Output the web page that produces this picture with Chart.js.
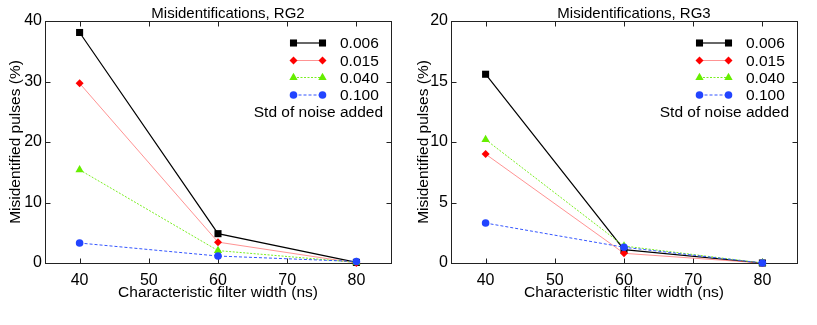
<!DOCTYPE html>
<html><head><meta charset="utf-8">
<script src="https://cdn.jsdelivr.net/npm/chart.js@4.4.0/dist/chart.umd.min.js"></script>
<style>
html,body{margin:0;padding:0;background:#fff;width:817px;height:325px;overflow:hidden}
#c1{position:absolute;left:0;top:0}
#c2{position:absolute;left:408px;top:0}
</style>
</head><body>
<canvas id="c1" width="408" height="325"></canvas>
<canvas id="c2" width="409" height="325"></canvas>
<script>
// ---- data ----
const filterWidths = [40, 60, 80];
const xTickValues = [40, 50, 60, 70, 80];
const noiseLabels = ['0.006', '0.015', '0.040', '0.100'];
const legendNote = 'Std of noise added';

const rg2Title = 'Misidentifications, RG2';
const rg2_006 = [38.1, 4.85, 0.1];
const rg2_015 = [29.7, 3.45, 0.0];
const rg2_040 = [15.4, 2.05, 0.1];
const rg2_100 = [3.3, 1.15, 0.25];
const rg2YTicks = [0, 10, 20, 30, 40];

const rg3Title = 'Misidentifications, RG3';
const rg3_006 = [15.6, 1.1, 0.0];
const rg3_015 = [9.0, 0.8, 0.0];
const rg3_040 = [10.2, 1.4, 0.0];
const rg3_100 = [3.3, 1.3, 0.0];
const rg3YTicks = [0, 5, 10, 15, 20];

const xTitle = 'Characteristic filter width (ns)';
const yTitle = 'Misidentified pulses (%)';

// ---- styles ----
const FONT = "'Liberation Sans', Arial, Helvetica, sans-serif";
Chart.defaults.font.family = FONT;
Chart.defaults.color = '#000';

const seriesStyles = [
  {fill: '#000000', line: '#000000', width: 1.2, dash: [], point: 'rect', r: 5},
  {fill: '#ff0000', line: 'rgba(255,40,40,0.5)', width: 1, dash: [], point: 'rectRot', r: 4},
  {fill: '#66ee00', line: '#7aee22', width: 1, dash: [2, 1.5], point: 'triangle', r: 4.8},
  {fill: '#2244ff', line: '#3355ff', width: 1, dash: [3, 2], point: 'circle', r: 3.8}
];

function makeDatasets(seriesList) {
  return seriesList.map((vals, i) => {
    const s = seriesStyles[i];
    return {
      label: noiseLabels[i],
      data: filterWidths.map((x, k) => ({x: x, y: vals[k]})),
      borderColor: s.line,
      borderWidth: s.width,
      borderDash: s.dash,
      backgroundColor: s.fill,
      pointBackgroundColor: s.fill,
      pointBorderColor: s.fill,
      pointBorderWidth: 0,
      pointStyle: s.point,
      pointRadius: s.r,
      pointHoverRadius: s.r,
      tension: 0,
      clip: false,
      order: seriesList.length - 1 - i
    };
  });
}

const framePlugin = {
  id: 'frame',
  beforeDatasetsDraw(chart) {
    const ctx = chart.ctx, a = chart.chartArea;
    const xs = chart.scales.x, ys = chart.scales.y;
    ctx.save();
    ctx.strokeStyle = '#222';
    ctx.lineWidth = 1;
    const L = Math.round(a.left) + 0.5, R = Math.round(a.right) + 0.5;
    const T = Math.round(a.top) + 0.5, B = Math.round(a.bottom) + 0.5;
    ctx.strokeRect(L, T, R - L, B - T);
    const tl = 5;
    ctx.beginPath();
    xs.ticks.forEach(t => {
      const px = Math.round(xs.getPixelForValue(t.value)) + 0.5;
      ctx.moveTo(px, B); ctx.lineTo(px, B - tl);
      ctx.moveTo(px, T); ctx.lineTo(px, T + tl);
    });
    ys.ticks.forEach(t => {
      const py = Math.round(ys.getPixelForValue(t.value)) + 0.5;
      ctx.moveTo(L, py); ctx.lineTo(L + tl, py);
      ctx.moveTo(R, py); ctx.lineTo(R - tl, py);
    });
    ctx.stroke();
    ctx.restore();
  }
};

const legendTitlePlugin = {
  id: 'legendTitle',
  afterDraw(chart, args, opts) {
    const ctx = chart.ctx, a = chart.chartArea;
    ctx.save();
    // title
    ctx.fillStyle = '#000';
    ctx.font = '15px ' + FONT;
    ctx.textAlign = 'center';
    ctx.textBaseline = 'middle';
    ctx.fillText(opts.title, (a.left + a.right) / 2 + 10, 14);
    // legend
    const x1 = a.right - 97.5, x2 = a.right - 68.5, tx = a.right - 51;
    const rows = [22, 39.5, 56.5, 74];
    ctx.font = '15.5px ' + FONT;
    ctx.textAlign = 'left';
    chart.data.datasets.forEach((ds, i) => {
      const y = a.top + rows[i];
      ctx.save();
      ctx.strokeStyle = ds.borderColor;
      ctx.lineWidth = ds.borderWidth;
      ctx.setLineDash(ds.borderDash);
      ctx.beginPath(); ctx.moveTo(x1, y); ctx.lineTo(x2, y); ctx.stroke();
      ctx.restore();
      ctx.fillStyle = ds.pointBackgroundColor;
      ctx.strokeStyle = ds.pointBorderColor;
      const po = {pointStyle: ds.pointStyle, radius: ds.pointRadius, rotation: 0, borderWidth: 0};
      Chart.helpers.drawPoint(ctx, po, x1, y);
      Chart.helpers.drawPoint(ctx, po, x2, y);
      ctx.fillStyle = '#000';
      ctx.fillText(ds.label, tx, y + 1);
    });
    ctx.textAlign = 'right';
    ctx.fillText(legendNote, a.right - 8, a.top + 92);
    ctx.restore();
  }
};

function makeChart(id, title, seriesList, yTicks, yAxisWidth, padRight) {
  return new Chart(document.getElementById(id), {
    type: 'line',
    data: {datasets: makeDatasets(seriesList)},
    options: {
      responsive: false,
      animation: false,
      devicePixelRatio: 1,
      layout: {padding: {left: 0, right: padRight, top: 21, bottom: 0}},
      plugins: {
        legend: {display: false},
        tooltip: {enabled: false},
        title: {display: false},
        legendTitle: {title: title}
      },
      scales: {
        x: {
          type: 'linear', min: 35, max: 85,
          afterBuildTicks: s => { s.ticks = xTickValues.map(v => ({value: v})); },
          afterFit: s => { s.height = 62; },
          grid: {display: false, drawTicks: false},
          border: {display: false},
          ticks: {padding: 8, font: {size: 16}, color: '#000', maxRotation: 0, autoSkip: false},
          title: {display: true, text: xTitle, font: {size: 15.5}, color: '#000', padding: {top: 0, bottom: 23}}
        },
        y: {
          type: 'linear', min: yTicks[0], max: yTicks[yTicks.length - 1],
          afterBuildTicks: s => { s.ticks = yTicks.map(v => ({value: v})); },
          afterFit: s => { s.width = yAxisWidth; },
          grid: {display: false, drawTicks: false},
          border: {display: false},
          ticks: {padding: 3, font: {size: 16}, color: '#000', autoSkip: false},
          title: {display: true, text: yTitle, font: {size: 15.5}, color: '#000', padding: {top: 6, bottom: 0}}
        }
      }
    },
    plugins: [framePlugin, legendTitlePlugin]
  });
}

makeChart('c1', rg2Title, [rg2_006, rg2_015, rg2_040, rg2_100], rg2YTicks, 45, 17);
makeChart('c2', rg3Title, [rg3_006, rg3_015, rg3_040, rg3_100], rg3YTicks, 43, 20);
</script>
</body></html>
